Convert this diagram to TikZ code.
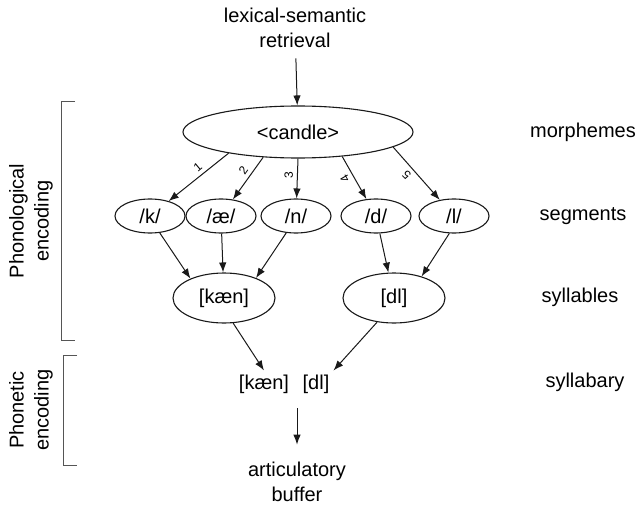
\documentclass[tikz,border=0pt]{standalone}
\usepackage{fontspec}
\setmainfont{Liberation Sans}
\usetikzlibrary{shapes.geometric,arrows.meta}
\definecolor{lineblack}{RGB}{25,25,25}
\definecolor{bracketgray}{RGB}{85,85,85}
\tikzset{
  unit/.style={ellipse, draw=lineblack, line width=1.1pt, inner sep=0pt},
  arr/.style={-{Latex[length=10pt,width=7.5pt]}, line width=1pt, draw=lineblack},
  num/.style={font=\fontsize{12}{12}\selectfont, inner sep=4pt, anchor=south, pos=0.42},
  syl/.style={inner sep=4pt},
  bracket/.style={line width=1pt, draw=bracketgray}
}

\begin{document}
\begin{tikzpicture}[x=1pt,y=-1pt,font=\fontsize{20}{25}\selectfont]
\useasboundingbox (0,0) rectangle (639,505);

% lexical input and morpheme
\node[align=center] (lex) at (295,28) {lexical-semantic\\retrieval};
\node[unit, minimum width=230pt, minimum height=52pt] (candle) at (298,132) {<candle>};
\draw[arr, shorten <=7pt] (lex) -- (candle);

% segments
\node[unit, minimum width=70pt, minimum height=34pt] (k) at (150,216) {/k/};
\node[unit, minimum width=70pt, minimum height=34pt] (ae) at (221,216) {/æ/};
\node[unit, minimum width=70pt, minimum height=34pt] (n) at (296,216) {/n/};
\node[unit, minimum width=70pt, minimum height=34pt] (d) at (376,216) {/d/};
\node[unit, minimum width=70pt, minimum height=34pt] (l) at (454,216) {/l/};

\draw[arr] (candle.197) -- node[num, rotate=40] {1} (k);
\draw[arr] (candle.216) -- node[num, rotate=55] {2} (ae);
\draw[arr] (candle.south) -- node[num, rotate=90] {3} (n);
\draw[arr] (candle.331) -- node[num, rotate=120] {4} (d);
\draw[arr] (candle.351) -- node[num, rotate=135] {5} (l);

% syllables
\node[unit, minimum width=102pt, minimum height=50pt] (kaen) at (224,298) {[kæn]};
\node[unit, minimum width=102pt, minimum height=50pt] (dl) at (394,298) {[dl]};

\draw[arr] (k.300) -- (kaen.150);
\draw[arr] (ae) -- (kaen);
\draw[arr] (n.240) -- (kaen.32);
\draw[arr] (d) -- (dl);
\draw[arr] (l.255) -- (dl.38);

% syllabary and output
\node[syl] (skaen) at (264,384) {[kæn]};
\node[syl] (sdl) at (316,384) {[dl]};
\draw[arr] (kaen.290) -- (skaen.north);
\draw[arr] (dl.235) -- (sdl.north east);

\node[align=center] (buffer) at (297,482) {articulatory\\buffer};
\coordinate (sylbot) at (297,408);
\draw[arr, shorten >=14pt] (sylbot) -- (buffer);

% level labels
\node (morph) at (583,132) {morphemes};
\node (segm) at (583,216) {segments};
\node (sylls) at (580,297) {syllables};
\node (sylry) at (585,382) {syllabary};

% encoding brackets
\draw[bracket] (75,102) -- (61,102) -- (61,340) -- (75,340);
\node[rotate=90, align=center] (phon) at (31,221) {Phonological\\encoding};
\draw[bracket] (77,355) -- (63,355) -- (63,465) -- (77,465);
\node[rotate=90, align=center] (phnt) at (31,410) {Phonetic\\encoding};
\end{tikzpicture}
\end{document}
